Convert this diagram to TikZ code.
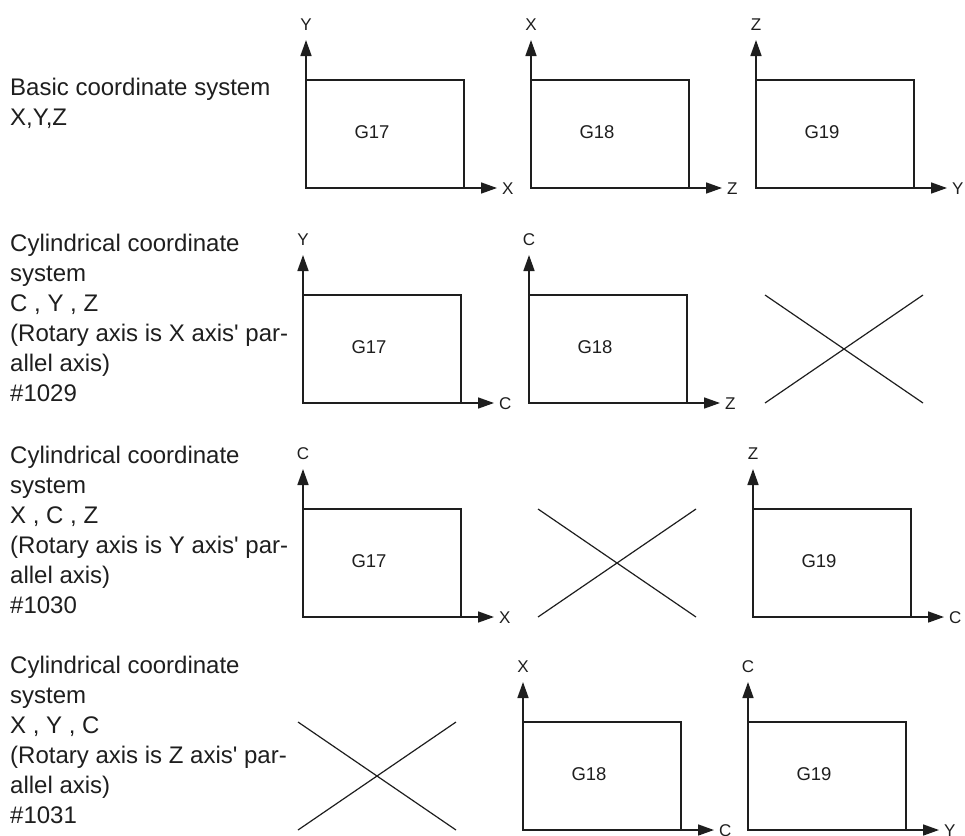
\documentclass[tikz,border=0pt]{standalone}
\usepackage{fontspec}
\setmainfont{Liberation Sans}
\usetikzlibrary{arrows.meta}
\definecolor{ink}{HTML}{1E1E1E}
\tikzset{
  ax/.style={draw=ink, line width=1.6pt, -{Triangle[length=16pt,width=11pt]}},
  frame/.style={draw=ink, line width=1.6pt},
  crossline/.style={draw=ink, line width=1.2pt},
  axlabel/.style={font=\fontsize{17}{20}\selectfont, text=ink, inner sep=0pt},
  glabel/.style={font=\fontsize{18.5}{22}\selectfont, text=ink, inner sep=0pt},
  desc/.style={font=\fontsize{24}{30}\selectfont, text=ink, inner sep=0pt, align=left, anchor=base west},
}
% name, x, y0, vertical label, horizontal label, plane label
\newcommand{\cpanel}[6]{%
  \coordinate (#1-o) at (#2,#3);
  \coordinate (#1-v) at (#2,#3-148);
  \coordinate (#1-h) at (#2+191,#3);
  \coordinate (#1-r) at (#2+158,#3-108);
  \draw[frame] (#1-o) rectangle (#1-r);
  \draw[ax] (#1-o) -- (#1-v);
  \draw[ax] (#1-o) -- (#1-h);
  \node[axlabel, anchor=base] (#1-vl) at (#2,#3-158) {#4};
  \node[axlabel, anchor=base west] (#1-hl) at (#2+196,#3+6) {#5};
  \node[glabel] (#1-g) at (#2+66,#3-56) {#6};
}
% name, x, y0
\newcommand{\xcross}[3]{%
  \coordinate (#1-a) at (#2,#3-108);
  \coordinate (#1-b) at (#2+158,#3);
  \coordinate (#1-c) at (#2,#3);
  \coordinate (#1-d) at (#2+158,#3-108);
  \draw[crossline] (#1-a) -- (#1-b);
  \draw[crossline] (#1-c) -- (#1-d);
}
\newcommand{\apos}{\textquotesingle}
\begin{document}
\begin{tikzpicture}[x=1pt,y=-1pt]
\useasboundingbox (0,0) rectangle (965,835);

% Row 1 (anchor = baseline of last line)
\node[desc] (t1) at (10,125) {Basic coordinate system\\X,Y,Z};
\cpanel{a1}{306}{188}{Y}{X}{G17}
\cpanel{a2}{531}{188}{X}{Z}{G18}
\cpanel{a3}{756}{188}{Z}{Y}{G19}

% Row 2
\node[desc] (t2) at (10,401) {Cylindrical coordinate\\system\\C , Y , Z\\(Rotary axis is X axis\apos{} par-\\allel axis)\\\#1029};
\cpanel{b1}{303}{403}{Y}{C}{G17}
\cpanel{b2}{529}{403}{C}{Z}{G18}
\xcross{b3}{765}{403}

% Row 3
\node[desc] (t3) at (10,613) {Cylindrical coordinate\\system\\X , C , Z\\(Rotary axis is Y axis\apos{} par-\\allel axis)\\\#1030};
\cpanel{c1}{303}{617}{C}{X}{G17}
\xcross{c2}{538}{617}
\cpanel{c3}{753}{617}{Z}{C}{G19}

% Row 4
\node[desc] (t4) at (10,823) {Cylindrical coordinate\\system\\X , Y , C\\(Rotary axis is Z axis\apos{} par-\\allel axis)\\\#1031};
\xcross{d1}{298}{830}
\cpanel{d2}{523}{830}{X}{C}{G18}
\cpanel{d3}{748}{830}{C}{Y}{G19}
\end{tikzpicture}
\end{document}
